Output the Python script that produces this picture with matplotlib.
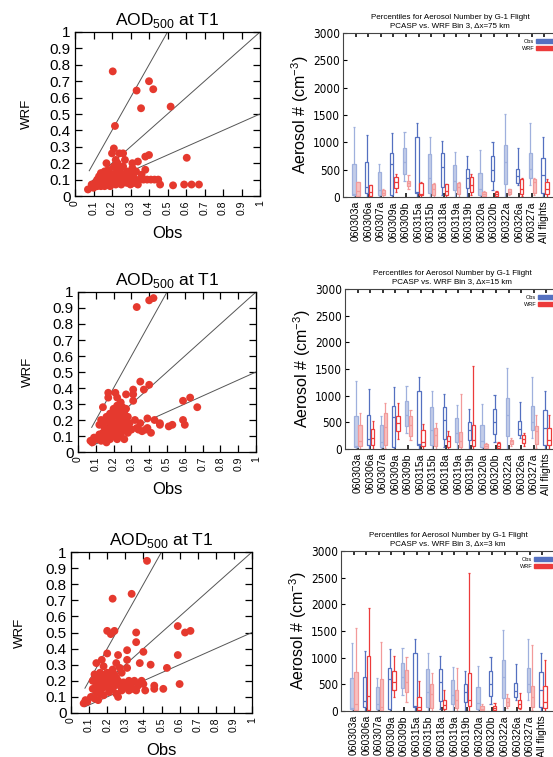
import numpy as np
import matplotlib
matplotlib.use("Agg")
import matplotlib.pyplot as plt
from matplotlib.patches import Patch
from matplotlib import font_manager

plt.rcParams['font.family'] = ['Liberation Sans', 'DejaVu Sans']
plt.rcParams['mathtext.fontset'] = 'custom'
plt.rcParams['mathtext.rm'] = 'Liberation Sans'


def _condensed_font():
    """Pick a narrow sans face for the count axis if one is installed."""
    for f in font_manager.fontManager.ttflist:
        name = f.name.lower()
        fn = f.fname.lower()
        if ('sans' in name and ('narrow' in name or 'condensed' in name
                                or 'condensed' in fn or 'narrow' in fn)
                and f.style == 'normal' and f.weight in (400, 'normal', 'regular')):
            return font_manager.FontProperties(fname=f.fname)
    return None


NARROW = _condensed_font()

# ---------------- AOD scatter data (Obs, WRF) ----------------
aod_75_obs = [0.204, 0.40, 0.333, 0.423, 0.357, 0.517, 0.216, 0.604,
              0.07, 0.09, 0.10, 0.11, 0.12, 0.12, 0.13, 0.13, 0.14, 0.14, 0.14, 0.15, 0.15,
              0.16, 0.16, 0.16, 0.17, 0.17, 0.17, 0.18, 0.18, 0.18, 0.19, 0.19, 0.19, 0.20,
              0.20, 0.20, 0.21, 0.21, 0.21, 0.22, 0.22, 0.22, 0.23, 0.23, 0.24, 0.24, 0.24,
              0.25, 0.25, 0.26, 0.26, 0.26, 0.27, 0.27, 0.28, 0.28, 0.29, 0.30, 0.30, 0.31,
              0.31, 0.32, 0.32, 0.33, 0.34, 0.34, 0.35, 0.36, 0.37, 0.38, 0.38, 0.39, 0.40,
              0.41, 0.43, 0.45, 0.46, 0.53, 0.59, 0.63, 0.67]
aod_75_wrf = [0.76, 0.70, 0.643, 0.651, 0.535, 0.545, 0.427, 0.233,
              0.04, 0.07, 0.05, 0.08, 0.10, 0.06, 0.12, 0.08, 0.14, 0.10, 0.06, 0.12, 0.08,
              0.15, 0.10, 0.06, 0.13, 0.09, 0.20, 0.11, 0.07, 0.16, 0.14, 0.09, 0.06, 0.12,
              0.26, 0.08, 0.29, 0.18, 0.10, 0.14, 0.07, 0.22, 0.20, 0.11, 0.26, 0.16, 0.09,
              0.13, 0.07, 0.26, 0.18, 0.10, 0.22, 0.12, 0.08, 0.15, 0.10, 0.13, 0.07, 0.20,
              0.17, 0.11, 0.08, 0.15, 0.21, 0.07, 0.10, 0.13, 0.10, 0.24, 0.16, 0.10, 0.25,
              0.10, 0.10, 0.10, 0.07, 0.065, 0.07, 0.07, 0.07]

aod_15_obs = [0.07, 0.08, 0.09, 0.11, 0.12, 0.12, 0.13, 0.13, 0.14, 0.14, 0.14, 0.15, 0.15,
              0.16, 0.16, 0.16, 0.17, 0.17, 0.17, 0.17, 0.18, 0.18, 0.18, 0.19, 0.19, 0.19,
              0.20, 0.20, 0.20, 0.21, 0.21, 0.21, 0.22, 0.22, 0.22, 0.22, 0.23, 0.23, 0.23,
              0.24, 0.24, 0.24, 0.25, 0.25, 0.25, 0.26, 0.26, 0.26, 0.27, 0.27, 0.27, 0.28,
              0.28, 0.29, 0.30, 0.31, 0.31, 0.31, 0.32, 0.33, 0.34, 0.35, 0.35, 0.36, 0.37,
              0.38, 0.39, 0.39, 0.40, 0.41, 0.43, 0.46, 0.46, 0.51, 0.53, 0.59, 0.60, 0.59,
              0.63, 0.67, 0.33, 0.40, 0.424]
aod_15_wrf = [0.07, 0.06, 0.09, 0.08, 0.17, 0.11, 0.20, 0.07, 0.28, 0.18, 0.12, 0.15, 0.09,
              0.22, 0.13, 0.06, 0.19, 0.10, 0.37, 0.34, 0.24, 0.15, 0.08, 0.21, 0.12, 0.17,
              0.27, 0.10, 0.14, 0.37, 0.23, 0.18, 0.34, 0.29, 0.12, 0.08, 0.25, 0.20, 0.15,
              0.31, 0.22, 0.10, 0.28, 0.17, 0.13, 0.24, 0.20, 0.08, 0.36, 0.27, 0.15, 0.22,
              0.12, 0.18, 0.14, 0.39, 0.36, 0.32, 0.20, 0.15, 0.14, 0.44, 0.18, 0.13, 0.39,
              0.14, 0.21, 0.15, 0.42, 0.12, 0.20, 0.18, 0.17, 0.16, 0.17, 0.20, 0.17, 0.32,
              0.34, 0.28, 0.906, 0.948, 0.962]

aod_3_obs = [0.07, 0.08, 0.09, 0.11, 0.12, 0.12, 0.13, 0.13, 0.14, 0.14, 0.14, 0.15, 0.15,
             0.15, 0.16, 0.16, 0.16, 0.17, 0.17, 0.17, 0.18, 0.18, 0.18, 0.19, 0.19, 0.20,
             0.20, 0.20, 0.21, 0.21, 0.22, 0.22, 0.23, 0.23, 0.23, 0.24, 0.24, 0.25, 0.25,
             0.25, 0.26, 0.26, 0.26, 0.27, 0.27, 0.28, 0.28, 0.29, 0.30, 0.31, 0.31, 0.31,
             0.32, 0.32, 0.33, 0.34, 0.35, 0.36, 0.37, 0.38, 0.39, 0.40, 0.40, 0.41, 0.44,
             0.46, 0.46, 0.51, 0.53, 0.59, 0.60, 0.59, 0.63, 0.66, 0.36, 0.36, 0.20, 0.22,
             0.24, 0.23, 0.335, 0.42]
aod_3_wrf = [0.06, 0.08, 0.07, 0.10, 0.15, 0.20, 0.09, 0.24, 0.18, 0.13, 0.31, 0.22, 0.16,
             0.08, 0.25, 0.19, 0.12, 0.33, 0.21, 0.15, 0.29, 0.18, 0.11, 0.24, 0.20, 0.25,
             0.16, 0.37, 0.22, 0.13, 0.25, 0.18, 0.27, 0.21, 0.15, 0.24, 0.17, 0.31, 0.22,
             0.12, 0.36, 0.20, 0.10, 0.28, 0.17, 0.25, 0.14, 0.19, 0.16, 0.39, 0.33, 0.28,
             0.20, 0.14, 0.18, 0.15, 0.20, 0.14, 0.17, 0.31, 0.20, 0.38, 0.18, 0.14, 0.30,
             0.17, 0.15, 0.15, 0.28, 0.36, 0.18, 0.54, 0.50, 0.51, 0.44, 0.50, 0.51, 0.49,
             0.51, 0.71, 0.74, 0.945]

# ---------------- Aerosol number percentiles by flight ----------------
flights = ['060303a', '060306a', '060307a', '060309a', '060309b', '060315a', '060315b',
           '060318a', '060319a', '060319b', '060320a', '060320b', '060322a', '060326a',
           '060327a', 'All flights']

# Observations (PCASP): min, 25th, median, 75th, max
obs_min = [0, 0, 0, 0, 294, 0, 0, 43, 0, 0, 0, 135, 0, 214, 214, 0]
obs_q1 = [45, 73, 43, 30, 429, 80, 80, 184, 135, 171, 30, 288, 245, 263, 349, 80]
obs_med = [60, 184, 135, 600, 637, 90, 349, 551, 294, 349, 153, 502, 643, 380, 508, 398]
obs_q3 = [612, 643, 459, 814, 900, 1090, 784, 796, 582, 514, 447, 753, 949, 520, 814, 722]
obs_max = [1273, 1133, 612, 1163, 1182, 1347, 1090, 1022, 820, 753, 851, 1010, 1512, 888, 1347, 1090]

# WRF, dx = 75 km
w75_min = [0, 0, 0, 92, 153, 0, 0, 0, 0, 30, 0, 0, 30, 10, 30, 0]
w75_q1 = [20, 20, 30, 165, 202, 30, 43, 30, 61, 92, 20, 20, 61, 61, 80, 61]
w75_med = [110, 92, 73, 276, 257, 60, 153, 110, 184, 214, 49, 49, 92, 153, 276, 141]
w75_q3 = [270, 214, 122, 367, 300, 263, 245, 233, 263, 367, 92, 86, 147, 337, 337, 276]
w75_max = [280, 227, 147, 429, 398, 270, 257, 245, 282, 416, 104, 104, 153, 349, 355, 337]

# WRF, dx = 15 km
w15_min = [0, 0, 20, 187, 175, 0, 0, 0, 0, 0, 0, 0, 50, 50, 20, 0]
w15_q1 = [50, 81, 81, 331, 250, 50, 62, 40, 40, 60, 20, 20, 94, 112, 94, 81]
w15_med = [144, 206, 406, 487, 456, 131, 269, 144, 144, 175, 50, 62, 144, 187, 331, 175]
w15_q3 = [456, 381, 675, 612, 612, 362, 394, 250, 312, 444, 94, 112, 175, 269, 425, 394]
w15_max = [675, 531, 862, 862, 737, 469, 487, 331, 1037, 1550, 112, 131, 206, 300, 644, 644]

# WRF, dx = 3 km
w3_min = [0, 0, 0, 262, 169, 0, 0, 0, 0, 0, 0, 0, 50, 30, 20, 0]
w3_q1 = [25, 25, 25, 400, 356, 25, 62, 40, 62, 87, 20, 20, 94, 62, 75, 62]
w3_med = [125, 275, 75, 537, 544, 75, 325, 106, 200, 200, 44, 62, 169, 125, 262, 169]
w3_q3 = [731, 1025, 606, 750, 775, 262, 500, 200, 400, 712, 94, 94, 244, 212, 462, 462]
w3_max = [1562, 1937, 1294, 1025, 1012, 562, 719, 400, 812, 2587, 137, 156, 325, 337, 1231, 962]

W, H = 553, 757
fig = plt.figure(figsize=(W / 100, H / 100), dpi=100)


def frac(left, top, right, bottom):
    return [left / W, 1 - bottom / H, (right - left) / W, (bottom - top) / H]


DOT = '#e5392e'
LINE = '#555555'


def scatter_panel(rect, obs, wrf, ylab_x):
    ax = fig.add_axes(rect)
    ax.scatter(obs, wrf, s=32, color=DOT, edgecolors='none', zorder=3)
    x0 = 0.077
    ax.plot([x0, 0.5], [2 * x0, 1.0], color=LINE, lw=0.7, zorder=2)
    ax.plot([x0, 1.0], [x0, 1.0], color=LINE, lw=0.7, zorder=2)
    ax.plot([x0, 1.0], [0.5 * x0, 0.5], color=LINE, lw=0.7, zorder=2)
    ax.set_xlim(0, 1)
    ax.set_ylim(0, 1)
    t = np.round(np.arange(0, 1.01, 0.1), 1)
    ax.set_xticks(t)
    ax.set_yticks(t)
    ax.set_xticklabels([f'{v:g}' for v in t], rotation=90, fontsize=7.5)
    ax.set_yticklabels([f'{v:g}' for v in t], fontsize=11)
    ax.tick_params(direction='in', length=5, width=0.9, top=True, right=True, pad=3)
    for s in ax.spines.values():
        s.set_linewidth(0.9)
    ax.set_title('AOD$_{500}$ at T1', fontsize=12.5, pad=5)
    ax.set_ylabel('WRF', fontsize=9.5)
    ax.yaxis.set_label_coords(ylab_x, 0.5)
    ax.set_xlabel('Obs', fontsize=12, labelpad=8)
    return ax


BLUE_E = '#5470c0'
BLUE_F = '#c3cde9'
BLUE_FE = '#9fb0dd'
RED_E = '#ec3b3b'
RED_F = '#f8c0c0'
RED_FE = '#f29a9a'


def draw_boxes(ax, xs, mn, q1, md, q3, mx, edge, fill, fedge):
    w = 0.26
    for i, x in enumerate(xs):
        filled = (i % 2 == 0)
        ec = fedge if filled else edge
        fc = fill if filled else 'white'
        ax.vlines(x, mn[i], q1[i], color=ec, lw=0.9, zorder=2)
        ax.vlines(x, q3[i], mx[i], color=ec, lw=0.9, zorder=2)
        ax.hlines([mn[i], mx[i]], x - w / 3, x + w / 3, color=ec, lw=0.9, zorder=2)
        ax.bar(x, q3[i] - q1[i], bottom=q1[i], width=w, color=fc, edgecolor=ec,
               linewidth=0.9, zorder=3)
        ax.hlines(md[i], x - w / 2, x + w / 2, color=ec, lw=0.9, zorder=4)


def box_panel(rect, wrf, dx_label, ylab_x):
    ax = fig.add_axes(rect)
    pos = np.arange(1, len(flights) + 1)
    draw_boxes(ax, pos - 0.12, obs_min, obs_q1, obs_med, obs_q3, obs_max,
               BLUE_E, BLUE_F, BLUE_FE)
    draw_boxes(ax, pos + 0.2, *wrf, RED_E, RED_F, RED_FE)
    ax.set_xlim(0, len(flights) + 1)
    ax.set_ylim(0, 3000)
    ax.set_yticks(np.arange(0, 3001, 500))
    ax.set_xticks(pos)
    ax.set_xticklabels(flights, rotation=90, fontsize=7.5)
    for lbl in ax.get_yticklabels():
        if NARROW is not None:
            lbl.set_fontproperties(NARROW)
            lbl.set_fontsize(8.5)
        else:
            lbl.set_fontsize(7.2)
    ax.tick_params(axis='y', direction='in', length=3, width=0.8, left=True, right=False, pad=2)
    ax.tick_params(axis='x', direction='in', length=3, width=1.4, top=True, color='#333333', pad=3)
    for s in ax.spines.values():
        s.set_linewidth(0.8)
        s.set_color('#444444')
    ax.set_ylabel('Aerosol # (cm$^{-3}$)', fontsize=11.5)
    ax.yaxis.set_label_coords(ylab_x, 0.5)
    ax.set_title('Percentiles for Aerosol Number by G-1 Flight\n'
                 f'PCASP vs. WRF Bin 3, \u0394x={dx_label}', fontsize=5.8, pad=4,
                 linespacing=1.3)
    handles = [Patch(facecolor=BLUE_E, edgecolor=BLUE_E, label='Obs'),
               Patch(facecolor=RED_E, edgecolor=RED_E, label='WRF')]
    ax.legend(handles=handles, loc='upper right', bbox_to_anchor=(1.0, 0.985),
              fontsize=4, frameon=False, markerfirst=False, handlelength=3.2,
              handleheight=0.9, labelspacing=0.3, borderpad=0.1, handletextpad=0.3)
    return ax


scatter_panel(frac(75, 32, 260, 196), aod_75_obs, aod_75_wrf, -0.23)
scatter_panel(frac(78, 292, 256, 452), aod_15_obs, aod_15_wrf, -0.25)
scatter_panel(frac(71, 552, 252, 713), aod_3_obs, aod_3_wrf, -0.25)

box_panel(frac(343, 33, 557, 197), [w75_min, w75_q1, w75_med, w75_q3, w75_max], '75 km', -0.15)
box_panel(frac(345, 289, 559, 449), [w15_min, w15_q1, w15_med, w15_q3, w15_max], '15 km', -0.148)
box_panel(frac(341, 551, 555, 711), [w3_min, w3_q1, w3_med, w3_q3, w3_max], '3 km', -0.148)

fig.savefig('out.png', dpi=100)
